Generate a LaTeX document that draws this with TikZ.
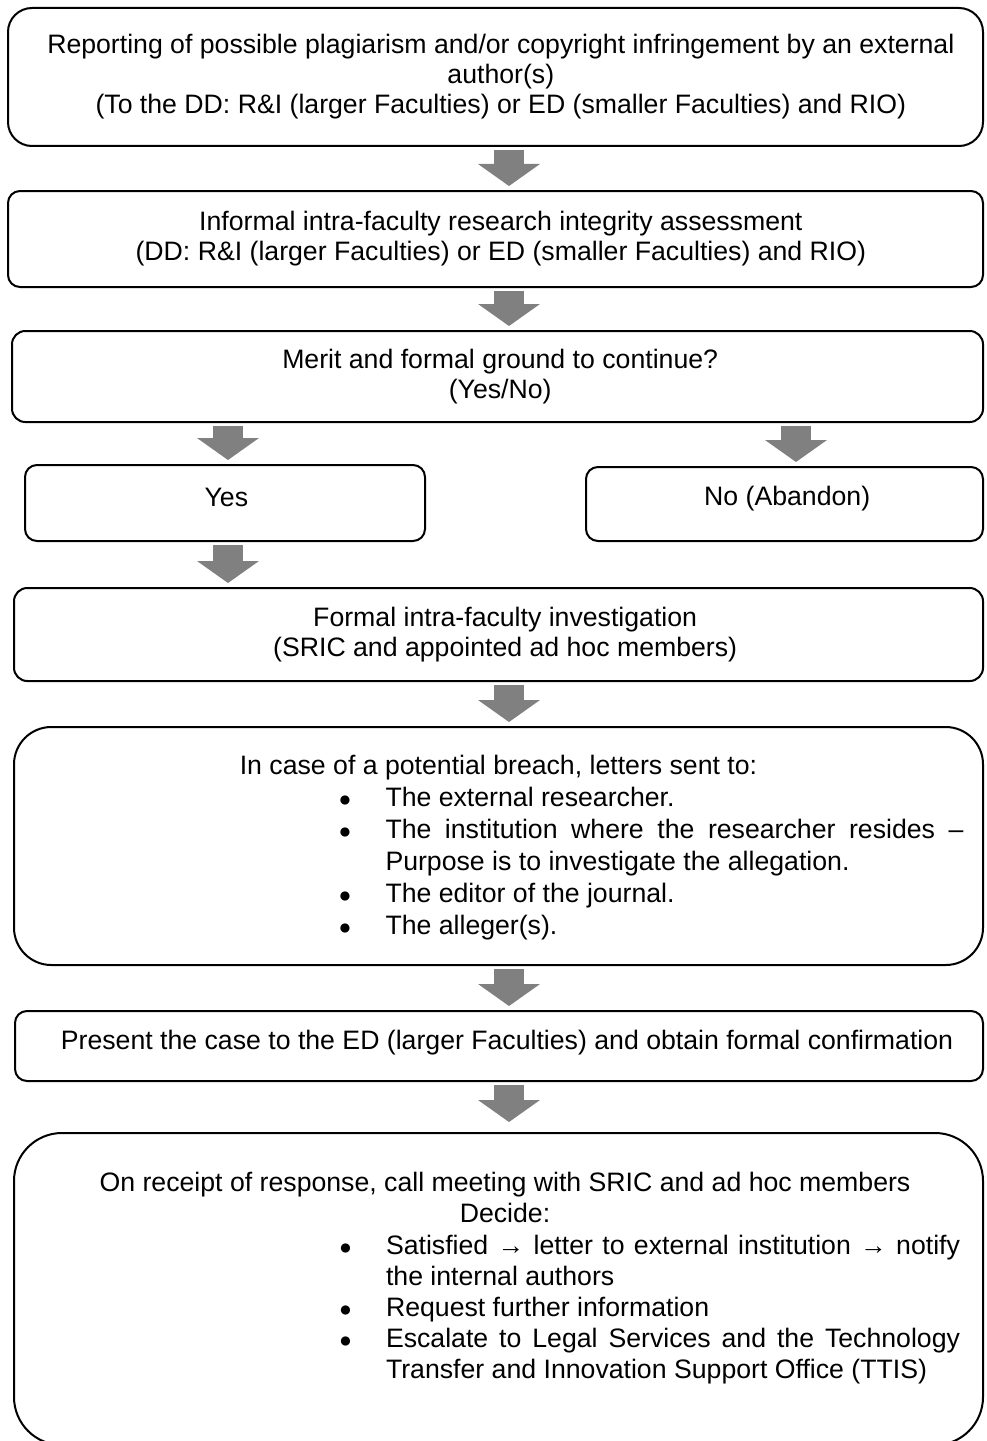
\documentclass[tikz,border=0pt]{standalone}
\usepackage{fontspec}
\setmainfont{Liberation Sans}
\usetikzlibrary{fit}
\usetikzlibrary{arrows.meta}
\definecolor{arrowgray}{RGB}{128,128,128}
\tikzset{cell/.style={rectangle, draw, line width=1.5pt, inner sep=0pt}}
\tikzset{txt/.style={align=center, inner sep=0pt, font=\fontsize{20}{22.5}\selectfont}}
\tikzset{lst/.style={align=justify, inner sep=0pt}}
\tikzset{flow/.style={
   draw=arrowgray, line width=22.5pt,
   -{Triangle[width=46.5pt, length=16.5pt, line width=0pt]},
   shorten <=2.5pt, shorten >=3pt
}}
\newcommand{\bigbul}{\raisebox{0pt}{\fontsize{16}{16}\selectfont ●}}
\newcommand{\bul}[1]{\par\noindent\llap{\bigbul\hspace{25.5pt}}#1\par}
\newcommand{\breachtext}{%
  \fontsize{20}{24}\selectfont
  {\centering In case of a potential breach, letters sent to:\par}
  \leftskip=264pt
  \bul{The external researcher.}
  \bul{The institution where the researcher resides –\linebreak Purpose is to investigate the allegation.}
  \bul{The editor of the journal.}
  \bul{The alleger(s).}}
\newcommand{\decidetext}{%
  \fontsize{20}{23.4}\selectfont
  {\centering On receipt of response, call meeting with SRIC and ad hoc members\\ Decide:\par}
  \leftskip=252pt
  \bul{Satisfied → letter to external institution → notify\linebreak the internal authors}
  \bul{Request further information}
  \bul{Escalate to Legal Services and the Technology\linebreak Transfer and Innovation Support Office (TTIS)}}

\begin{document}
\begin{tikzpicture}[x=0.75pt, y=-0.75pt]

    \useasboundingbox (0,0) rectangle (986,1441);
    \clip (0,0) rectangle (986,1441);

    \coordinate (midcol) at (509,0);
    \coordinate (leftcol) at (228,0);
    \coordinate (rightcol) at (796,0);

    \node[cell, rounded corners=18pt, fit={(8,8) (983,146)},
      label={[txt, xshift=4pt]center:{Reporting of possible plagiarism and/or copyright infringement by an external\\ author(s)\\ (To the DD: R\&I (larger Faculties) or ED (smaller Faculties) and RIO)}}] (report) {};

    \node[cell, rounded corners=9pt, fit={(8,191) (983,287)},
      label={[txt, xshift=4pt]center:{Informal intra-faculty research integrity assessment\\ (DD: R\&I (larger Faculties) or ED (smaller Faculties) and RIO)}}] (assess) {};

    \node[cell, rounded corners=10pt, fit={(12,331) (983,422)},
      label={[txt, xshift=2pt]center:{Merit and formal ground to continue?\\ (Yes/No)}}] (merit) {};

    \node[cell, rounded corners=9pt, fit={(25,465) (425,541)},
      label={[txt, xshift=1pt, yshift=4pt]center:{Yes}}] (yes) {};
    \node[cell, rounded corners=9pt, fit={(586,467) (983,541)},
      label={[txt, xshift=2pt, yshift=4pt]center:{No (Abandon)}}] (no) {};

    \node[cell, rounded corners=10pt, fit={(14,588) (983,681)},
      label={[txt, xshift=5pt]center:{Formal intra-faculty investigation\\ (SRIC and appointed ad hoc members)}}] (formal) {};

    \node[cell, rounded corners=28pt, fit={(14,727) (983,965)},
      label={[lst, text width=697.5pt, yshift=-1pt]center:\breachtext}] (breach) {};

    \node[cell, rounded corners=9pt, fit={(15,1011) (983,1081)},
      label={[txt, xshift=6pt, yshift=2.5pt]center:{Present the case to the ED (larger Faculties) and obtain formal confirmation}}] (present) {};

    \node[cell, rounded corners=36pt, fit={(14,1133) (983,1445)},
      label={[lst, text width=682.5pt, xshift=4.9pt, yshift=8pt]center:\decidetext}] (decide) {};

    % block arrows
    \draw[flow] (report.south -| midcol) -- (assess.north -| midcol);
    \draw[flow] (assess.south -| midcol) -- (merit.north -| midcol);
    \draw[flow] (merit.south -| leftcol) -- (yes.north -| leftcol);
    \draw[flow] (merit.south -| rightcol) -- (no.north -| rightcol);
    \draw[flow] (yes.south -| leftcol) -- (formal.north -| leftcol);
    \draw[flow] (formal.south -| midcol) -- (breach.north -| midcol);
    \draw[flow] (breach.south -| midcol) -- (present.north -| midcol);
    \draw[flow, shorten >=7.5pt] (present.south -| midcol) -- (decide.north -| midcol);

\end{tikzpicture}
\end{document}
